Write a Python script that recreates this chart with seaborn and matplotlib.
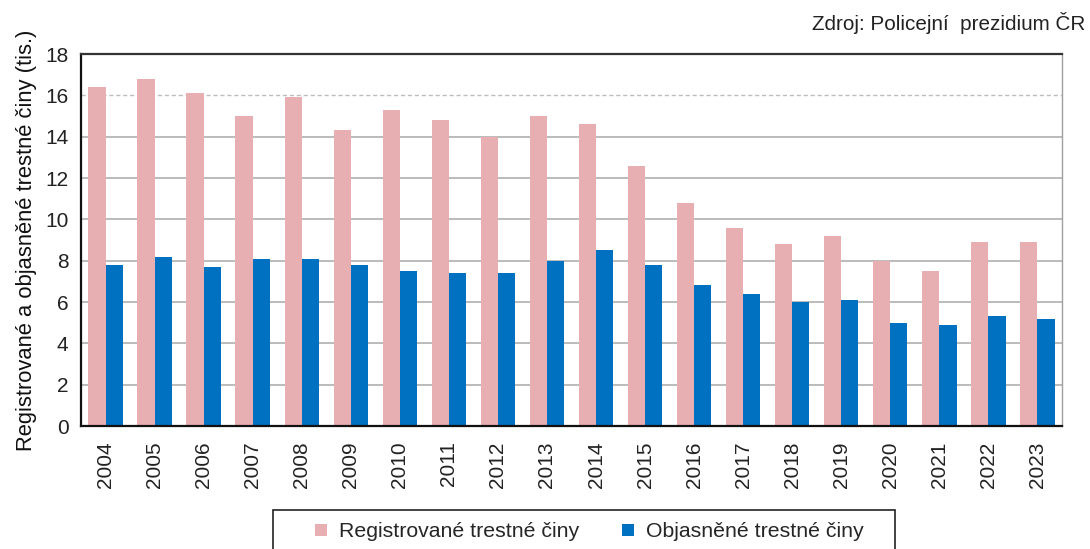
import matplotlib
matplotlib.use("Agg")
import matplotlib.pyplot as plt
import matplotlib.patches as mpatches
import seaborn as sns
import pandas as pd

years = [str(y) for y in range(2004, 2024)]
registrovane = [16.4, 16.8, 16.1, 15.0, 15.9, 14.3, 15.3, 14.8, 14.0, 15.0,
                14.6, 12.6, 10.8, 9.6, 8.8, 9.2, 8.0, 7.5, 8.9, 8.9]
objasnene = [7.8, 8.2, 7.7, 8.1, 8.1, 7.8, 7.5, 7.4, 7.4, 8.0,
             8.5, 7.8, 6.8, 6.4, 6.0, 6.1, 5.0, 4.9, 5.3, 5.2]
series_names = ["Registrované trestné činy", "Objasněné trestné činy"]
yticks = [0, 2, 4, 6, 8, 10, 12, 14, 16, 18]

df = pd.DataFrame({
    "rok": years * 2,
    "hodnota": registrovane + objasnene,
    "serie": [series_names[0]] * len(years) + [series_names[1]] * len(years),
})

sns.set_theme(style="white")
plt.rcParams["font.family"] = ["Liberation Sans", "DejaVu Sans"]

fig = plt.figure(figsize=(10.9, 5.49), dpi=100)
ax = fig.add_axes([0.0743, 0.224, 0.9, 0.6776])

sns.barplot(data=df, x="rok", y="hodnota", hue="serie",
            palette=["#E8AFB2", "#0070C0"], width=0.7, gap=0,
            saturation=1, ax=ax, legend=True, linewidth=0)

ax.set_ylim(0, 18)
ax.set_yticks(yticks)
ax.set_yticklabels([str(t) for t in yticks])
ax.set_xlim(-0.5, len(years) - 0.5)
ax.set_xlabel("")
ax.set_ylabel("Registrované a objasněné trestné činy (tis.)", fontsize=15.8, labelpad=6,
              color="#111111")
ax.tick_params(axis="y", length=0, pad=9, labelsize=15, labelcolor="#222222")
ax.tick_params(axis="x", length=0, pad=11, labelsize=15, labelcolor="#222222", rotation=90)

ax.set_axisbelow(True)
for t in yticks[1:-1]:
    if t == 16:
        ax.axhline(t, color="#BDBDBD", lw=1.0, ls=(0, (3, 2)), zorder=0)
    else:
        ax.axhline(t, color="#B5B5B5", lw=1.3, zorder=0)

for s in ["left", "bottom"]:
    ax.spines[s].set_color("#111111")
    ax.spines[s].set_linewidth(1.6)
ax.spines["top"].set_color("#333333")
ax.spines["top"].set_linewidth(1.6)
ax.spines["right"].set_color("#A0A0A0")
ax.spines["right"].set_linewidth(1.0)

handles, labels = ax.get_legend_handles_labels()
ax.get_legend().remove()
leg = fig.legend(handles, labels, loc="center", bbox_to_anchor=(0.5408, 0.031),
                 ncol=2, frameon=False, fontsize=15.3,
                 handlelength=0.55, handleheight=0.55, handletextpad=0.6,
                 columnspacing=2.0, borderpad=0, borderaxespad=0)

# legend frame (open at the bottom edge of the image, as in the reference)
frame = mpatches.Rectangle((273 / 1090, -0.05), 622 / 1090, 0.05 + 1 - 510 / 549,
                           transform=fig.transFigure, fill=False,
                           edgecolor="#222222", linewidth=1.2, clip_on=False)
fig.patches.append(frame)

fig.text(0.996, 0.958, "Zdroj: Policejní  prezidium ČR", ha="right", va="center",
         fontsize=14.9, color="#222222")

fig.savefig("out.png", dpi=100)
